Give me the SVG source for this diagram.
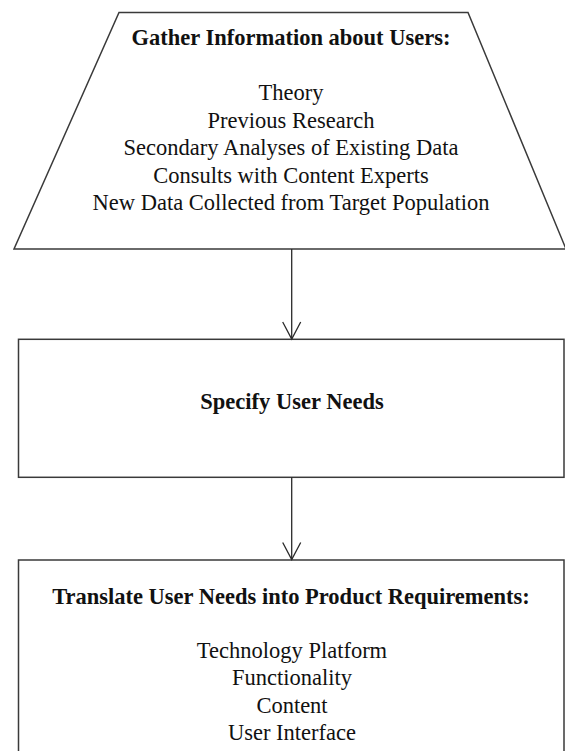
<svg xmlns="http://www.w3.org/2000/svg" width="565" height="751" viewBox="0 0 565 751">
  <defs>
    <style>
      .shape { fill: #ffffff; stroke: #3a3a3a; stroke-width: 1.5; }
      .conn { fill: none; stroke: #2a2a2a; stroke-width: 1.3; }
      .t { font-family: "Liberation Serif", "Times New Roman", serif; font-size: 22.5px; fill: #111111; text-anchor: middle; }
      .b { font-weight: bold; }
    </style>
    <marker id="arrow" viewBox="0 0 20 20" refX="18" refY="10" markerWidth="20" markerHeight="20" markerUnits="userSpaceOnUse" orient="auto">
      <path d="M1,1 L18,10 L1,19" fill="none" stroke="#2a2a2a" stroke-width="1.3"/>
    </marker>
  </defs>
  <rect width="565" height="751" fill="#ffffff"/>

  <g id="node-gather">
    <polygon class="shape" points="119,12.5 468,12.5 566,249 14,249"/>
    <text class="t b" x="291" y="45">Gather Information about Users:</text>
    <text class="t" x="291" y="100">Theory</text>
    <text class="t" x="291" y="127.5">Previous Research</text>
    <text class="t" x="291" y="155">Secondary Analyses of Existing Data</text>
    <text class="t" x="291" y="182.5">Consults with Content Experts</text>
    <text class="t" x="291" y="209.5">New Data Collected from Target Population</text>
  </g>

  <g id="node-specify">
    <rect class="shape" x="18.5" y="339.3" width="545.5" height="138"/>
    <text class="t b" x="292" y="409">Specify User Needs</text>
  </g>

  <g id="node-translate">
    <rect class="shape" x="18.5" y="560" width="545.5" height="210"/>
    <text class="t b" x="291" y="604">Translate User Needs into Product Requirements:</text>
    <text class="t" x="292" y="658">Technology Platform</text>
    <text class="t" x="292" y="685">Functionality</text>
    <text class="t" x="292" y="712.5">Content</text>
    <text class="t" x="292" y="740">User Interface</text>
  </g>

  <g id="connectors">
    <path class="conn" d="M291.7,249 L291.7,339" marker-end="url(#arrow)"/>
    <path class="conn" d="M291.7,477.3 L291.7,559.5" marker-end="url(#arrow)"/>
  </g>
</svg>
